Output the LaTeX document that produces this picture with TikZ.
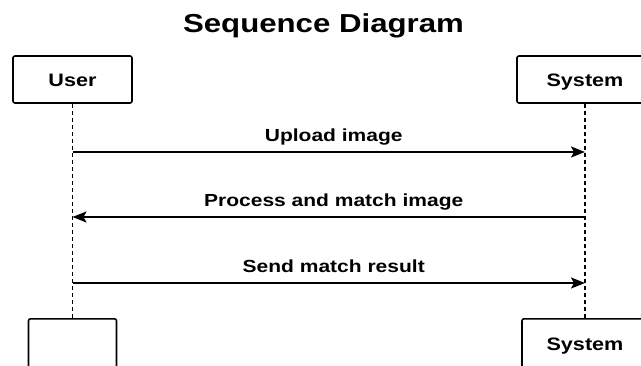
\documentclass[tikz,border=0pt]{standalone}
\usepackage{fontspec}
\setmainfont{Liberation Sans}[FakeStretch=1.2]
\usepackage{tikz}
\usetikzlibrary{arrows.meta}
\tikzstyle{actor} = [rectangle, rounded corners=2pt, draw=black, line width=1.6pt, fill=white, minimum height=47pt, text height=13pt, text depth=0pt, font=\fontsize{18}{20}\selectfont\bfseries]
\tikzstyle{lifeline} = [draw=black, line width=1.2pt, dash pattern=on 4pt off 3pt]
\tikzstyle{msg} = [line width=1.8pt, -{Stealth[length=14pt, width=11pt, inset=3pt]}]
\tikzstyle{msglabel} = [above=2pt, midway, xshift=5pt, text depth=4pt, font=\fontsize{17.5}{20}\selectfont\bfseries]

\begin{document}
\begin{tikzpicture}[x=1pt, y=1pt]
   \useasboundingbox (0,0) rectangle (641,-365);
   \fill[white] (0,0) rectangle (641,-365);
   \node (title) [anchor=base, font=\fontsize{26}{30}\selectfont\bfseries] at (323.5,-32) {Sequence Diagram};
   % participants, top row
   \node (user) [actor, minimum width=119pt] at (72.5,-79.5) {User};
   \node (system) [actor, minimum width=136pt] at (585,-79.5) {System};
   % participants, bottom row
   \node (userEnd) [actor, minimum width=88pt, minimum height=50pt, anchor=north] at (72.5,-318) {};
   \node (systemEnd) [actor, minimum width=126pt, minimum height=50pt, anchor=north] at (585,-318) {System};
   \draw [lifeline] (user) -- (userEnd);
   \draw [lifeline] (system) -- (systemEnd);
   % message points on the lifelines
   \coordinate (u1) at (72.5,-152);
   \coordinate (s1) at (585,-152);
   \coordinate (u2) at (72.5,-217);
   \coordinate (s2) at (585,-217);
   \coordinate (u3) at (72.5,-283);
   \coordinate (s3) at (585,-283);
   \draw [msg] (u1) -- node[msglabel] {Upload image} (s1);
   \draw [msg] (s2) -- node[msglabel] {Process and match image} (u2);
   \draw [msg] (u3) -- node[msglabel] {Send match result} (s3);
\end{tikzpicture}
\end{document}
